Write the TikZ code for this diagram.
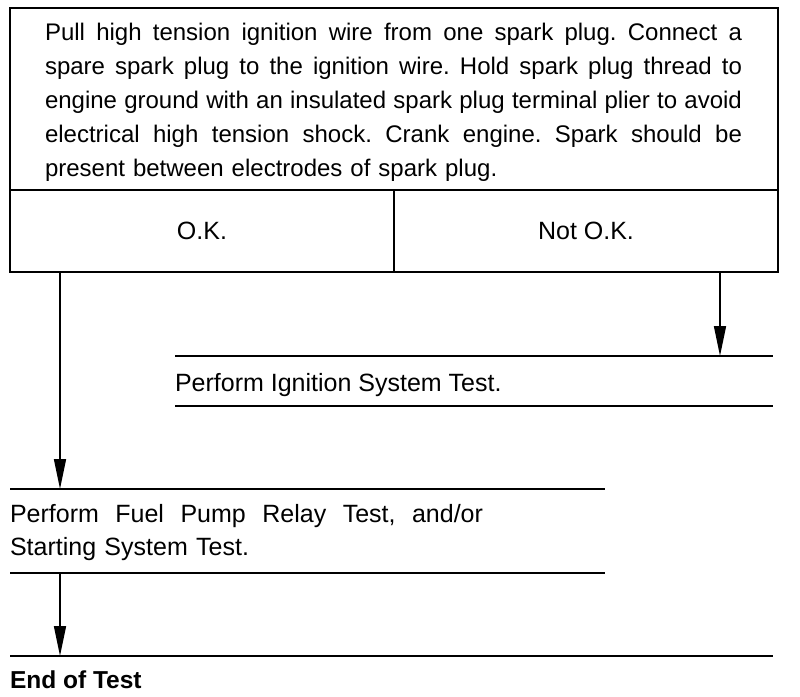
\documentclass[tikz,border=0pt]{standalone}
\usepackage{fontspec}
\setmainfont{Liberation Sans}
\usetikzlibrary{arrows.meta}
\hbadness=10000
\newcommand\fullline[2]{\leavevmode\hbox to #1{\spaceskip=0.278em plus 1em minus 0.12em\relax #2}}
\begin{document}
\frenchspacing
\begin{tikzpicture}[x=1pt,y=-1pt,
  every node/.style={inner sep=0pt,outer sep=0pt,font=\fontsize{25}{34}\selectfont},
  smalltext/.style={font=\fontsize{24}{34}\selectfont},
  boxline/.style={line width=1.5pt},
  rule/.style={line width=1.4pt},
  flow/.style={line width=1.6pt,-{Triangle[length=30pt,width=12pt]}}]
\useasboundingbox (0,0) rectangle (800,696);
\node[boxline,draw,anchor=north west,minimum width=768,minimum height=182] (q) at (10,8) {};
\node[smalltext,anchor=north west,text width=697,align=left] (qt) at (45,23.5)
 {\fullline{697pt}{Pull high tension ignition wire from one spark plug. Connect a}\\
  \fullline{697pt}{spare spark plug to the ignition wire. Hold spark plug thread to}\\
  \fullline{697pt}{engine ground with an insulated spark plug terminal plier to avoid}\\
  \fullline{697pt}{electrical high tension shock. Crank engine. Spark should be}\\
  present between electrodes of spark plug.};
\node[boxline,draw,anchor=north west,minimum width=384,minimum height=82] (ok) at (10,190) {O.K.};
\node[boxline,draw,anchor=north west,minimum width=384,minimum height=82] (nok) at (394,190) {Not O.K.};
\coordinate (ignTL) at (175,356);
\coordinate (ignTR) at (773,356);
\coordinate (ignBL) at (175,406);
\coordinate (ignBR) at (773,406);
\draw[rule] (ignTL) -- (ignTR);
\draw[rule] (ignBL) -- (ignBR);
\node[anchor=base west] (ign) at (175,391) {Perform Ignition System Test.};
\coordinate (fuelTL) at (10,489);
\coordinate (fuelTR) at (605,489);
\coordinate (fuelBL) at (10,573);
\coordinate (fuelBR) at (605,573);
\draw[rule] (fuelTL) -- (fuelTR);
\draw[rule] (fuelBL) -- (fuelBR);
\node[anchor=north west,text width=595,align=left,font=\fontsize{25}{33.5}\selectfont] (fuel) at (10,504)
 {\fullline{473pt}{Perform Fuel Pump Relay Test, and/or}\\Starting System Test.};
\coordinate (endl) at (10,656);
\coordinate (endr) at (773,656);
\draw[rule] (endl) -- (endr);
\node[anchor=base west,font=\fontsize{24.5}{34}\selectfont\bfseries] (end) at (10,688) {End of Test};
\draw[flow] (ok.south -| 60,0) -- (fuelTL -| 60,0);
\draw[flow] (nok.south -| 720,0) -- (ignTL -| 720,0);
\draw[flow] (fuelBL -| 60,0) -- (endl -| 60,0);
\end{tikzpicture}
\end{document}
